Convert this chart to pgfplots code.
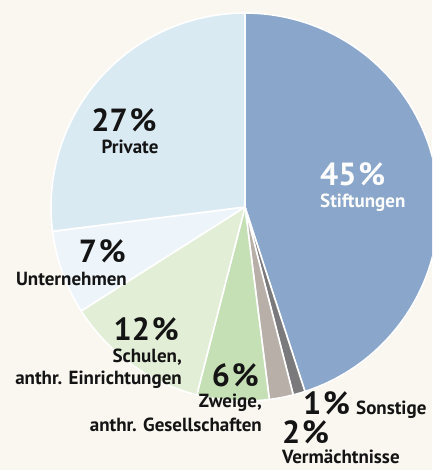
\documentclass[border=0pt]{standalone}
\usepackage{pgfplots}
\pgfplotsset{compat=1.18}
\usepackage{fontspec}
\setmainfont{PT Sans}
\definecolor{bg}{RGB}{250,246,240}
\definecolor{cStift}{RGB}{138,166,202}
\definecolor{cSonst}{RGB}{122,122,124}
\definecolor{cVerm}{RGB}{184,176,168}
\definecolor{cZweig}{RGB}{198,224,182}
\definecolor{cSchul}{RGB}{226,238,214}
\definecolor{cUnter}{RGB}{238,245,250}
\definecolor{cPriv}{RGB}{218,234,243}
\definecolor{txt}{RGB}{20,20,20}
\gdef\cum{0}
\newcommand{\slice}[2]{%
  \pgfmathsetmacro\sa{90-3.6*(\cum+#1)}%
  \pgfmathsetmacro\sb{90-3.6*\cum}%
  \edef\temp{\noexpand\addplot[fill=#2, draw=white, line width=1.6pt, line join=round, domain=\sa:\sb, samples=90] ({245+194*cos(x)},{263+194*sin(x)}) -- (axis cs:245,263) -- cycle;}%
  \temp
  \pgfmathsetmacro\newcum{\cum+#1}%
  \xdef\cum{\newcum}%
}
\newcommand{\pct}[1]{{\fontsize{32}{32}\selectfont\bfseries #1\kern0.06em\%}}
\begin{document}
\begin{tikzpicture}
\begin{axis}[name=ax, width=432pt, height=470pt, scale only axis,
  xmin=0, xmax=432, ymin=0, ymax=470, hide axis, clip=true]
\fill[bg] (axis cs:0,0) rectangle (axis cs:432,470);
% values in percent, clockwise from 12 o'clock
\slice{45}{cStift}
\slice{1}{cSonst}
\slice{2}{cVerm}
\slice{6}{cZweig}
\slice{12}{cSchul}
\slice{7}{cUnter}
\slice{27}{cPriv}
\begin{scope}[every node/.style={inner sep=0pt, text=txt, font=\fontsize{19}{19}\selectfont\bfseries}]
\node[anchor=base] at (axis cs:124,338) {\pct{27}};
\node[anchor=base] at (axis cs:130,316) {Private};
\node[anchor=base west, text=white] at (axis cs:320,284) {\pct{45}};
\node[anchor=base west, text=white] at (axis cs:320,262) {Stiftungen};
\node[anchor=base east] at (axis cs:126,207) {\pct{7}};
\node[anchor=base east] at (axis cs:127,184) {Unternehmen};
\node[anchor=base east] at (axis cs:179,129) {\pct{12}};
\node[anchor=base east] at (axis cs:182,107) {Schulen,};
\node[anchor=base east] at (axis cs:182,85) {anthr. Einrichtungen};
\node[anchor=base east] at (axis cs:259,83) {\pct{6}};
\node[anchor=base east] at (axis cs:262,62) {Zweige,};
\node[anchor=base east] at (axis cs:262,38) {anthr. Gesellschaften};
\node[anchor=base west] at (axis cs:303,55) {\pct{1}};
\node[anchor=base west] at (axis cs:356,55) {Sonstige};
\node[anchor=base west] at (axis cs:282,26) {\pct{2}};
\node[anchor=base west] at (axis cs:282,6) {Vermächtnisse};
\end{scope}
\end{axis}
\pgfresetboundingbox
\useasboundingbox (ax.south west) rectangle (ax.north east);
\end{tikzpicture}
\end{document}
